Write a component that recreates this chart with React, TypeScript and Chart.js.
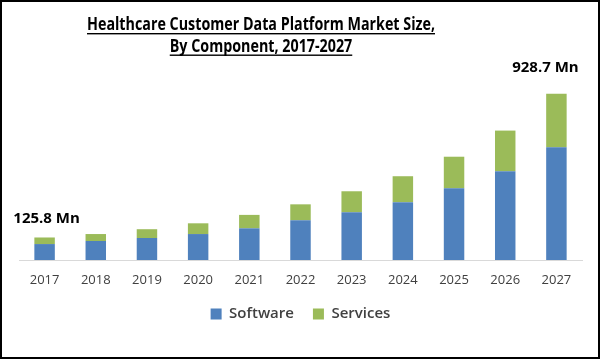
import React, { useEffect, useRef } from "react";
import { Chart, registerables } from "chart.js";

Chart.register(...registerables);

const years = ["2017", "2018", "2019", "2020", "2021", "2022", "2023", "2024", "2025", "2026", "2027"];
const software = [89, 106, 123, 145, 177, 222, 267, 323, 401, 496, 630];
const services = [36.8, 39, 49, 60, 75, 89, 117, 145, 176, 227, 298.7];
const calloutIndex = [0, 10];
const calloutText = ["125.8 Mn", "928.7 Mn"];
const titleLines = ["Healthcare Customer Data Platform Market Size,", "By Component, 2017-2027"];

const FONT = '"Open Sans", "Noto Sans", sans-serif';

const overlayPlugin = {
  id: "overlay",
  afterDraw(chart: any) {
    const ctx = chart.ctx as CanvasRenderingContext2D;
    ctx.save();
    // frame
    ctx.strokeStyle = "#000";
    ctx.lineWidth = 2;
    ctx.strokeRect(1, 1, 598, 357);

    // title (underlined)
    ctx.fillStyle = "#000";
    ctx.font = `bold 17px ${FONT}`;
    ctx.textBaseline = "alphabetic";
    ctx.textAlign = "center";
    const cx = 261;
    const w1 = ctx.measureText(titleLines[0]).width;
    const sx = 348 / w1;
    const baselines = [30, 51.5];
    titleLines.forEach((line, i) => {
      const w = ctx.measureText(line).width * sx;
      ctx.save();
      ctx.translate(cx, baselines[i]);
      ctx.scale(sx, 1);
      ctx.fillText(line, 0, 0);
      ctx.restore();
      ctx.fillRect(cx - w / 2, baselines[i] + 3, w, 1.4);
    });

    // callouts
    const meta = chart.getDatasetMeta(1);
    const shift = [
      [2, -14],
      [-11, -22],
    ];
    ctx.font = `bold 15px ${FONT}`;
    calloutIndex.forEach((idx, k) => {
      const el = meta.data[idx];
      if (!el) return;
      ctx.fillText(calloutText[k], el.x + shift[k][0], el.y + shift[k][1]);
    });
    ctx.restore();
  },
};

export default function App() {
  const ref = useRef<HTMLCanvasElement | null>(null);
  useEffect(() => {
    if (!ref.current) return;
    const chart = new Chart(ref.current, {
      type: "bar",
      data: {
        labels: years,
        datasets: [
          {
            label: "Software",
            data: software,
            backgroundColor: "#4F81BD",
            barPercentage: 0.4,
            categoryPercentage: 1,
          },
          {
            label: "Services",
            data: services,
            backgroundColor: "#9BBB59",
            barPercentage: 0.4,
            categoryPercentage: 1,
          },
        ],
      },
      options: {
        responsive: false,
        animation: false,
        layout: { padding: { left: 19, right: 18, top: 81, bottom: 27.5 } },
        plugins: {
          legend: {
            position: "bottom",
            labels: {
              boxWidth: 11,
              boxHeight: 11,
              padding: 19,
              color: "#404040",
              font: { family: FONT, size: 15, weight: "600" },
            },
          },
          title: { display: false },
          tooltip: { enabled: false },
        },
        scales: {
          x: {
            stacked: true,
            grid: { display: false, drawTicks: false },
            border: { display: true, color: "#d9d9d9", width: 1 },
            ticks: {
              padding: 12,
              color: "#404040",
              font: { family: FONT, size: 13 },
            },
            afterFit(scale: any) {
              scale.height = 27.5;
            },
          },
          y: {
            stacked: true,
            display: false,
            min: 0,
            max: 1000,
          },
        },
      },
      plugins: [overlayPlugin],
    });
    return () => chart.destroy();
  }, []);
  return (
    <div style={{ position: "absolute", left: 0, top: 0, width: 600, height: 359, background: "#fff" }}>
      <canvas ref={ref} width={600} height={359} style={{ display: "block" }} />
    </div>
  );
}
